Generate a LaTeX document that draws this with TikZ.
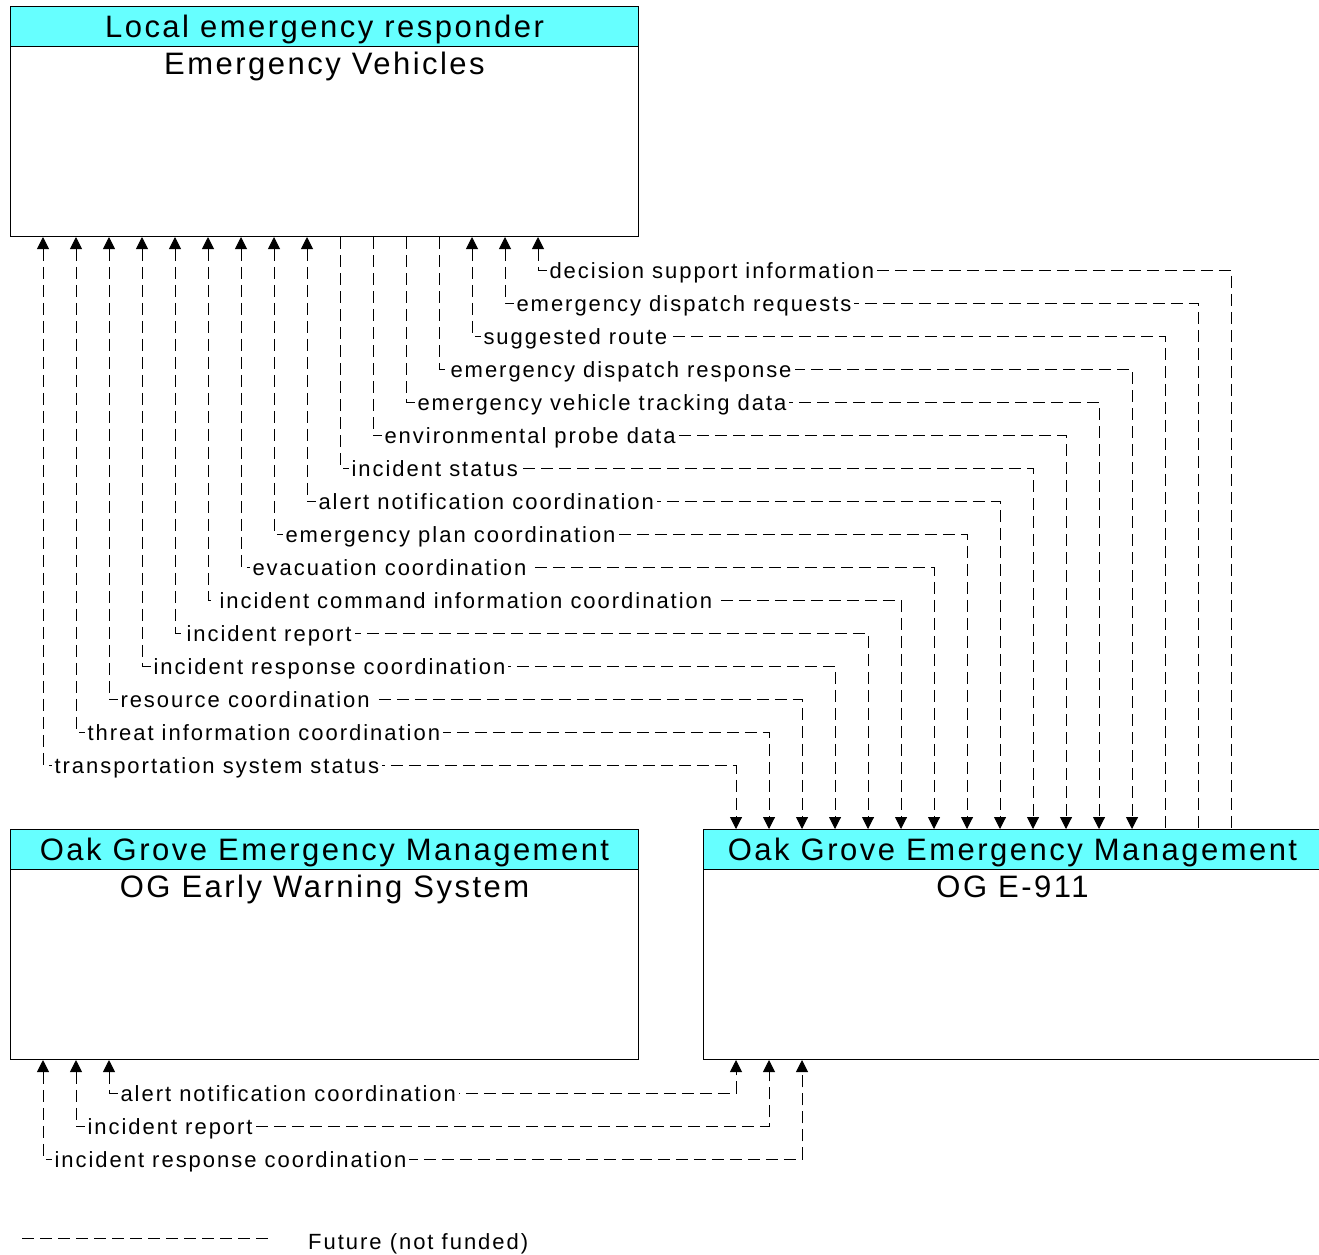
\documentclass[tikz,border=0pt]{standalone}
\usepackage{fontspec}
\setmainfont{Liberation Sans}
\newfontfamily\flowfont{Liberation Sans}[LetterSpace=9]
\newfontfamily\boxfont{Liberation Sans}[LetterSpace=8]
\usetikzlibrary{arrows.meta,positioning}
\definecolor{hdrcyan}{RGB}{102,255,255}
\tikzset{
  sysbox/.style={draw, line width=1pt, fill=white, anchor=north west,
    minimum width=628pt, minimum height=230pt, inner sep=0pt},
  band/.style={draw, line width=1pt, fill=hdrcyan, anchor=north,
    minimum width=628pt, minimum height=40pt, inner sep=0pt,
    text height=26pt, text depth=4pt, font=\boxfont\fontsize{31}{36}\selectfont},
  subname/.style={inner sep=0pt, text height=27pt, text depth=6pt,
    font=\boxfont\fontsize{31}{36}\selectfont},
  flow/.style={line width=1pt, dash pattern=on 12pt off 6pt,
    >={Triangle[width=12pt,length=12pt]}},
  lbl/.style={pos=0.5, anchor=base west, xshift=8pt, yshift=-8pt, fill=white,
    inner xsep=3pt, inner ysep=1pt, font=\flowfont\fontsize{22}{26}\selectfont},
}

\begin{document}
\begin{tikzpicture}[x=1pt,y=-1pt]
  \useasboundingbox[fill=white] (0,0) rectangle (1319,1254);

  % systems
  \node[sysbox] (ev) at (10,6) {};
  \node[band] (evh) at (ev.north) {Local emergency responder};
  \node[subname, below=0pt of evh] (evn) {Emergency Vehicles};

  \node[sysbox] (ews) at (10,829) {};
  \node[band] (ewsh) at (ews.north) {Oak Grove Emergency Management};
  \node[subname, below=0pt of ewsh] (ewsn) {OG Early Warning System};

  \node[sysbox, minimum width=618pt] (e911) at (703,829) {};
  \node[band, minimum width=618pt] (e911h) at (e911.north) {Oak Grove Emergency Management};
  \node[subname, below=0pt of e911h] (e911n) {OG E-911};

  % flow ends along the box edges
  \foreach \k in {1,...,16} {
    \coordinate (v\k) at ([xshift=33pt*\k]ev.south west);
    \coordinate (m\k) at ([xshift=33pt*\k]e911.north west);
  }
  \foreach \k in {1,2,3} {
    \coordinate (w\k) at ([xshift=33pt*\k]ews.south west);
    \coordinate (s\k) at ([xshift=33pt*\k]e911.south west);
  }

  % Emergency Vehicles <-> OG E-911
  \draw[flow,<->] (v1) |- node[lbl] {transportation system status} (m1 |- 0,765) -- (m1);
  \draw[flow,<->] (v2) |- node[lbl] {threat information coordination} (m2 |- 0,732) -- (m2);
  \draw[flow,<->] (v3) |- node[lbl] {resource coordination} (m3 |- 0,699) -- (m3);
  \draw[flow,<->] (v4) |- node[lbl] {incident response coordination} (m4 |- 0,666) -- (m4);
  \draw[flow,<->] (v5) |- node[lbl] {incident report} (m5 |- 0,633) -- (m5);
  \draw[flow,<->] (v6) |- node[lbl] {incident command information coordination} (m6 |- 0,600) -- (m6);
  \draw[flow,<->] (v7) |- node[lbl] {evacuation coordination} (m7 |- 0,567) -- (m7);
  \draw[flow,<->] (v8) |- node[lbl] {emergency plan coordination} (m8 |- 0,534) -- (m8);
  \draw[flow,<->] (v9) |- node[lbl] {alert notification coordination} (m9 |- 0,501) -- (m9);
  \draw[flow,->] (v10) |- node[lbl] {incident status} (m10 |- 0,468) -- (m10);
  \draw[flow,->] (v11) |- node[lbl] {environmental probe data} (m11 |- 0,435) -- (m11);
  \draw[flow,->] (v12) |- node[lbl] {emergency vehicle tracking data} (m12 |- 0,402) -- (m12);
  \draw[flow,->] (v13) |- node[lbl] {emergency dispatch response} (m13 |- 0,369) -- (m13);
  \draw[flow,<-] (v14) |- node[lbl] {suggested route} (m14 |- 0,336) -- (m14);
  \draw[flow,<-] (v15) |- node[lbl] {emergency dispatch requests} (m15 |- 0,303) -- (m15);
  \draw[flow,<-] (v16) |- node[lbl] {decision support information} (m16 |- 0,270) -- (m16);

  % OG Early Warning System <-> OG E-911
  \draw[flow,<->] (w3) |- node[lbl] {alert notification coordination} (s1 |- 0,1093) -- (s1);
  \draw[flow,<->] (w2) |- node[lbl] {incident report} (s2 |- 0,1126) -- (s2);
  \draw[flow,<->] (w1) |- node[lbl] {incident response coordination} (s3 |- 0,1159) -- (s3);

  % legend
  \coordinate (lgl) at (22,1238);
  \coordinate (lgr) at (272,1238);
  \draw[flow] (lgl) -- (lgr);
  \node[anchor=base west, inner sep=0pt, font=\flowfont\fontsize{22}{26}\selectfont] (lgtxt) at (308,1249) {Future (not funded)};
\end{tikzpicture}
\end{document}
